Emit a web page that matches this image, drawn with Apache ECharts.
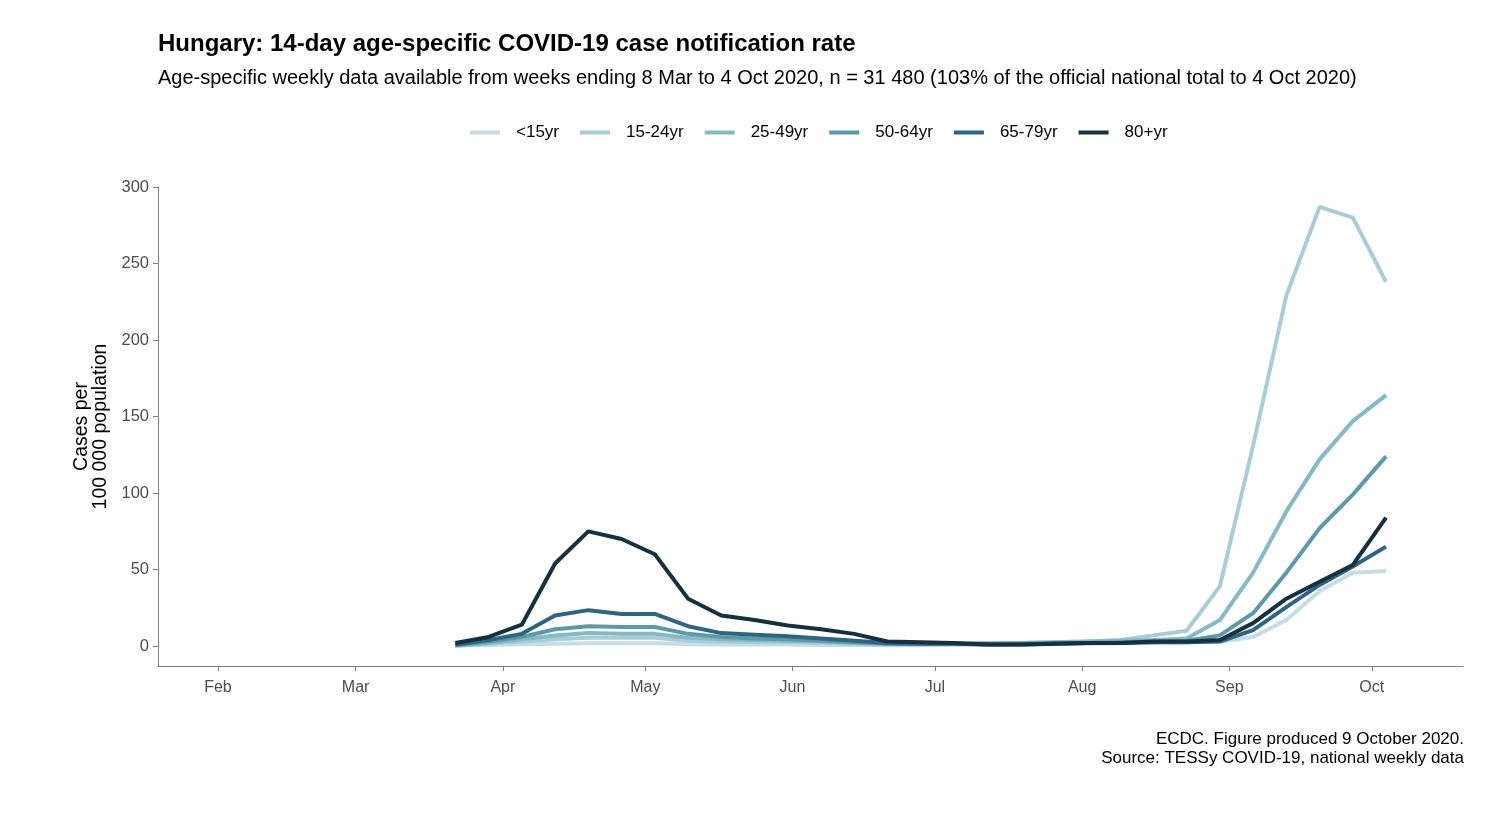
<!DOCTYPE html>
<html>
<head>
<meta charset="utf-8">
<script src="https://cdn.jsdelivr.net/npm/echarts@6/dist/echarts.min.js"></script>
<style>html,body{margin:0;padding:0;background:#fff}#c{width:1500px;height:828px}</style>
</head>
<body>
<div id="c"></div>
<script>
// Week-ending dates (Sundays), 2020
const weekEnds = ['2020-03-22','2020-03-29','2020-04-05','2020-04-12','2020-04-19','2020-04-26',
  '2020-05-03','2020-05-10','2020-05-17','2020-05-24','2020-05-31','2020-06-07','2020-06-14',
  '2020-06-21','2020-06-28','2020-07-05','2020-07-12','2020-07-19','2020-07-26','2020-08-02',
  '2020-08-09','2020-08-16','2020-08-23','2020-08-30','2020-09-06','2020-09-13','2020-09-20',
  '2020-09-27','2020-10-04'];
const ageGroups = ['<15yr','15-24yr','25-49yr','50-64yr','65-79yr','80+yr'];
const under15 = [0.2,0.8,1.2,1.5,1.8,1.8,1.8,1.2,1,1,1,0.8,0.7,0.6,0.6,0.7,0.8,1,1.2,1.5,1.8,2,2.5,3,6,17,36,48,49];
const age15_24 = [0.3,1.5,3,4.5,5.5,5.5,5.5,3.5,3,2.5,2.5,2,1.5,1,1,1.5,2,2,2.5,3,4,7,10,39,131,229,287,280,238];
const age25_49 = [0.5,2,4.5,7,8.5,8,8,5.5,4.5,4,3.5,3,2,1.5,1.5,1.5,1.5,2,2.5,3,3.5,4,5,17,48,88,122,147,164];
const age50_64 = [0.5,3,6,11,13,12.5,12.5,8,6,5,4.5,3.5,2.5,1.5,1.5,1.5,1.5,1.5,2,2,2.5,3,3.5,7,21.5,48,77,99,124];
const age65_79 = [1,4,8,20,23.5,21,21,13,8.5,7.5,6.5,5,3.5,2,1.5,1.5,1,1,1.5,2,2,2.5,2.5,3,10.5,25.5,40,52,65];
const age80plus = [2,6,14,54,75,70,60,31,20,17,13.5,11,8,3,2.5,2,1,1,1.5,2,2,3,3,4,15,31,42,53,84];
const yTicks = [0,50,100,150,200,250,300];
const monthNames = ['Jan','Feb','Mar','Apr','May','Jun','Jul','Aug','Sep','Oct','Nov','Dec'];

const seriesValues = [under15, age15_24, age25_49, age50_64, age65_79, age80plus];
const colors = ['#c6dde6','#a9cdd7','#83bbc4','#5d9aa9','#2c6683','#17303f'];

function toTime(s){ const p = s.split('-').map(Number); return new Date(p[0], p[1]-1, p[2]).getTime(); }

const chart = echarts.init(document.getElementById('c'));
const font = '"Liberation Sans", Arial, sans-serif';
chart.setOption({
  animation: false,
  backgroundColor: '#ffffff',
  textStyle: { fontFamily: font },
  title: [
    { text: 'Hungary: 14-day age-specific COVID-19 case notification rate', left: 158, top: 32, padding: 0,
      textStyle: { fontFamily: font, fontSize: 24, fontWeight: 'bold', color: '#000' } },
    { text: 'Age-specific weekly data available from weeks ending 8 Mar to 4 Oct 2020, n = 31 480 (103% of the official national total to 4 Oct 2020)',
      left: 158, top: 68, padding: 0, textStyle: { fontFamily: font, fontSize: 20, fontWeight: 'normal', color: '#000' } },
    { text: 'ECDC. Figure produced 9 October 2020.', right: 36, top: 731, padding: 0,
      textStyle: { fontFamily: font, fontSize: 17, fontWeight: 'normal', color: '#000' } },
    { text: 'Source: TESSy COVID-19, national weekly data', right: 36, top: 750, padding: 0,
      textStyle: { fontFamily: font, fontSize: 17, fontWeight: 'normal', color: '#000' } }
  ],
  legend: {
    left: 465, top: 119, icon: 'rect', itemWidth: 30, itemHeight: 4, itemGap: 21,
    data: ageGroups,
    textStyle: { fontFamily: font, fontSize: 17, color: '#000', padding: [0,0,0,11] }
  },
  grid: { left: 158, right: 37, top: 187, bottom: 162, containLabel: false },
  xAxis: {
    type: 'time',
    min: new Date(2020,0,19,9).getTime(),
    max: new Date(2020,9,20,5).getTime(),
    minInterval: 28*86400000, maxInterval: 31*86400000,
    axisLine: { show: true, onZero: false, lineStyle: { color: '#7f7f7f', width: 1 } },
    axisTick: { show: true, length: 5, lineStyle: { color: '#7f7f7f' } },
    axisLabel: { fontFamily: font, fontSize: 16, color: '#4d4d4d', margin: 14,
      formatter: function(v){ return monthNames[new Date(v).getMonth()]; }, hideOverlap: false },
    splitLine: { show: false }
  },
  yAxis: {
    type: 'value', min: -13, max: 300,
    name: 'Cases per\n100 000 population', nameLocation: 'middle', nameGap: 47, nameRotate: 90,
    nameTextStyle: { fontFamily: font, fontSize: 19.5, color: '#000', lineHeight: 19 },
    axisLine: { show: true, lineStyle: { color: '#7f7f7f', width: 1 } },
    axisTick: { show: true, length: 5, customValues: yTicks, lineStyle: { color: '#7f7f7f' } },
    axisLabel: { fontFamily: font, fontSize: 16.5, color: '#4d4d4d', margin: 9, customValues: yTicks },
    splitLine: { show: false }
  },
  series: ageGroups.map((g, i) => ({
    name: g, type: 'line', showSymbol: false, symbol: 'none',
    lineStyle: { width: 4, color: colors[i] }, itemStyle: { color: colors[i] },
    data: weekEnds.map((d, k) => [toTime(d), seriesValues[i][k]])
  }))
});
</script>
</body>
</html>
